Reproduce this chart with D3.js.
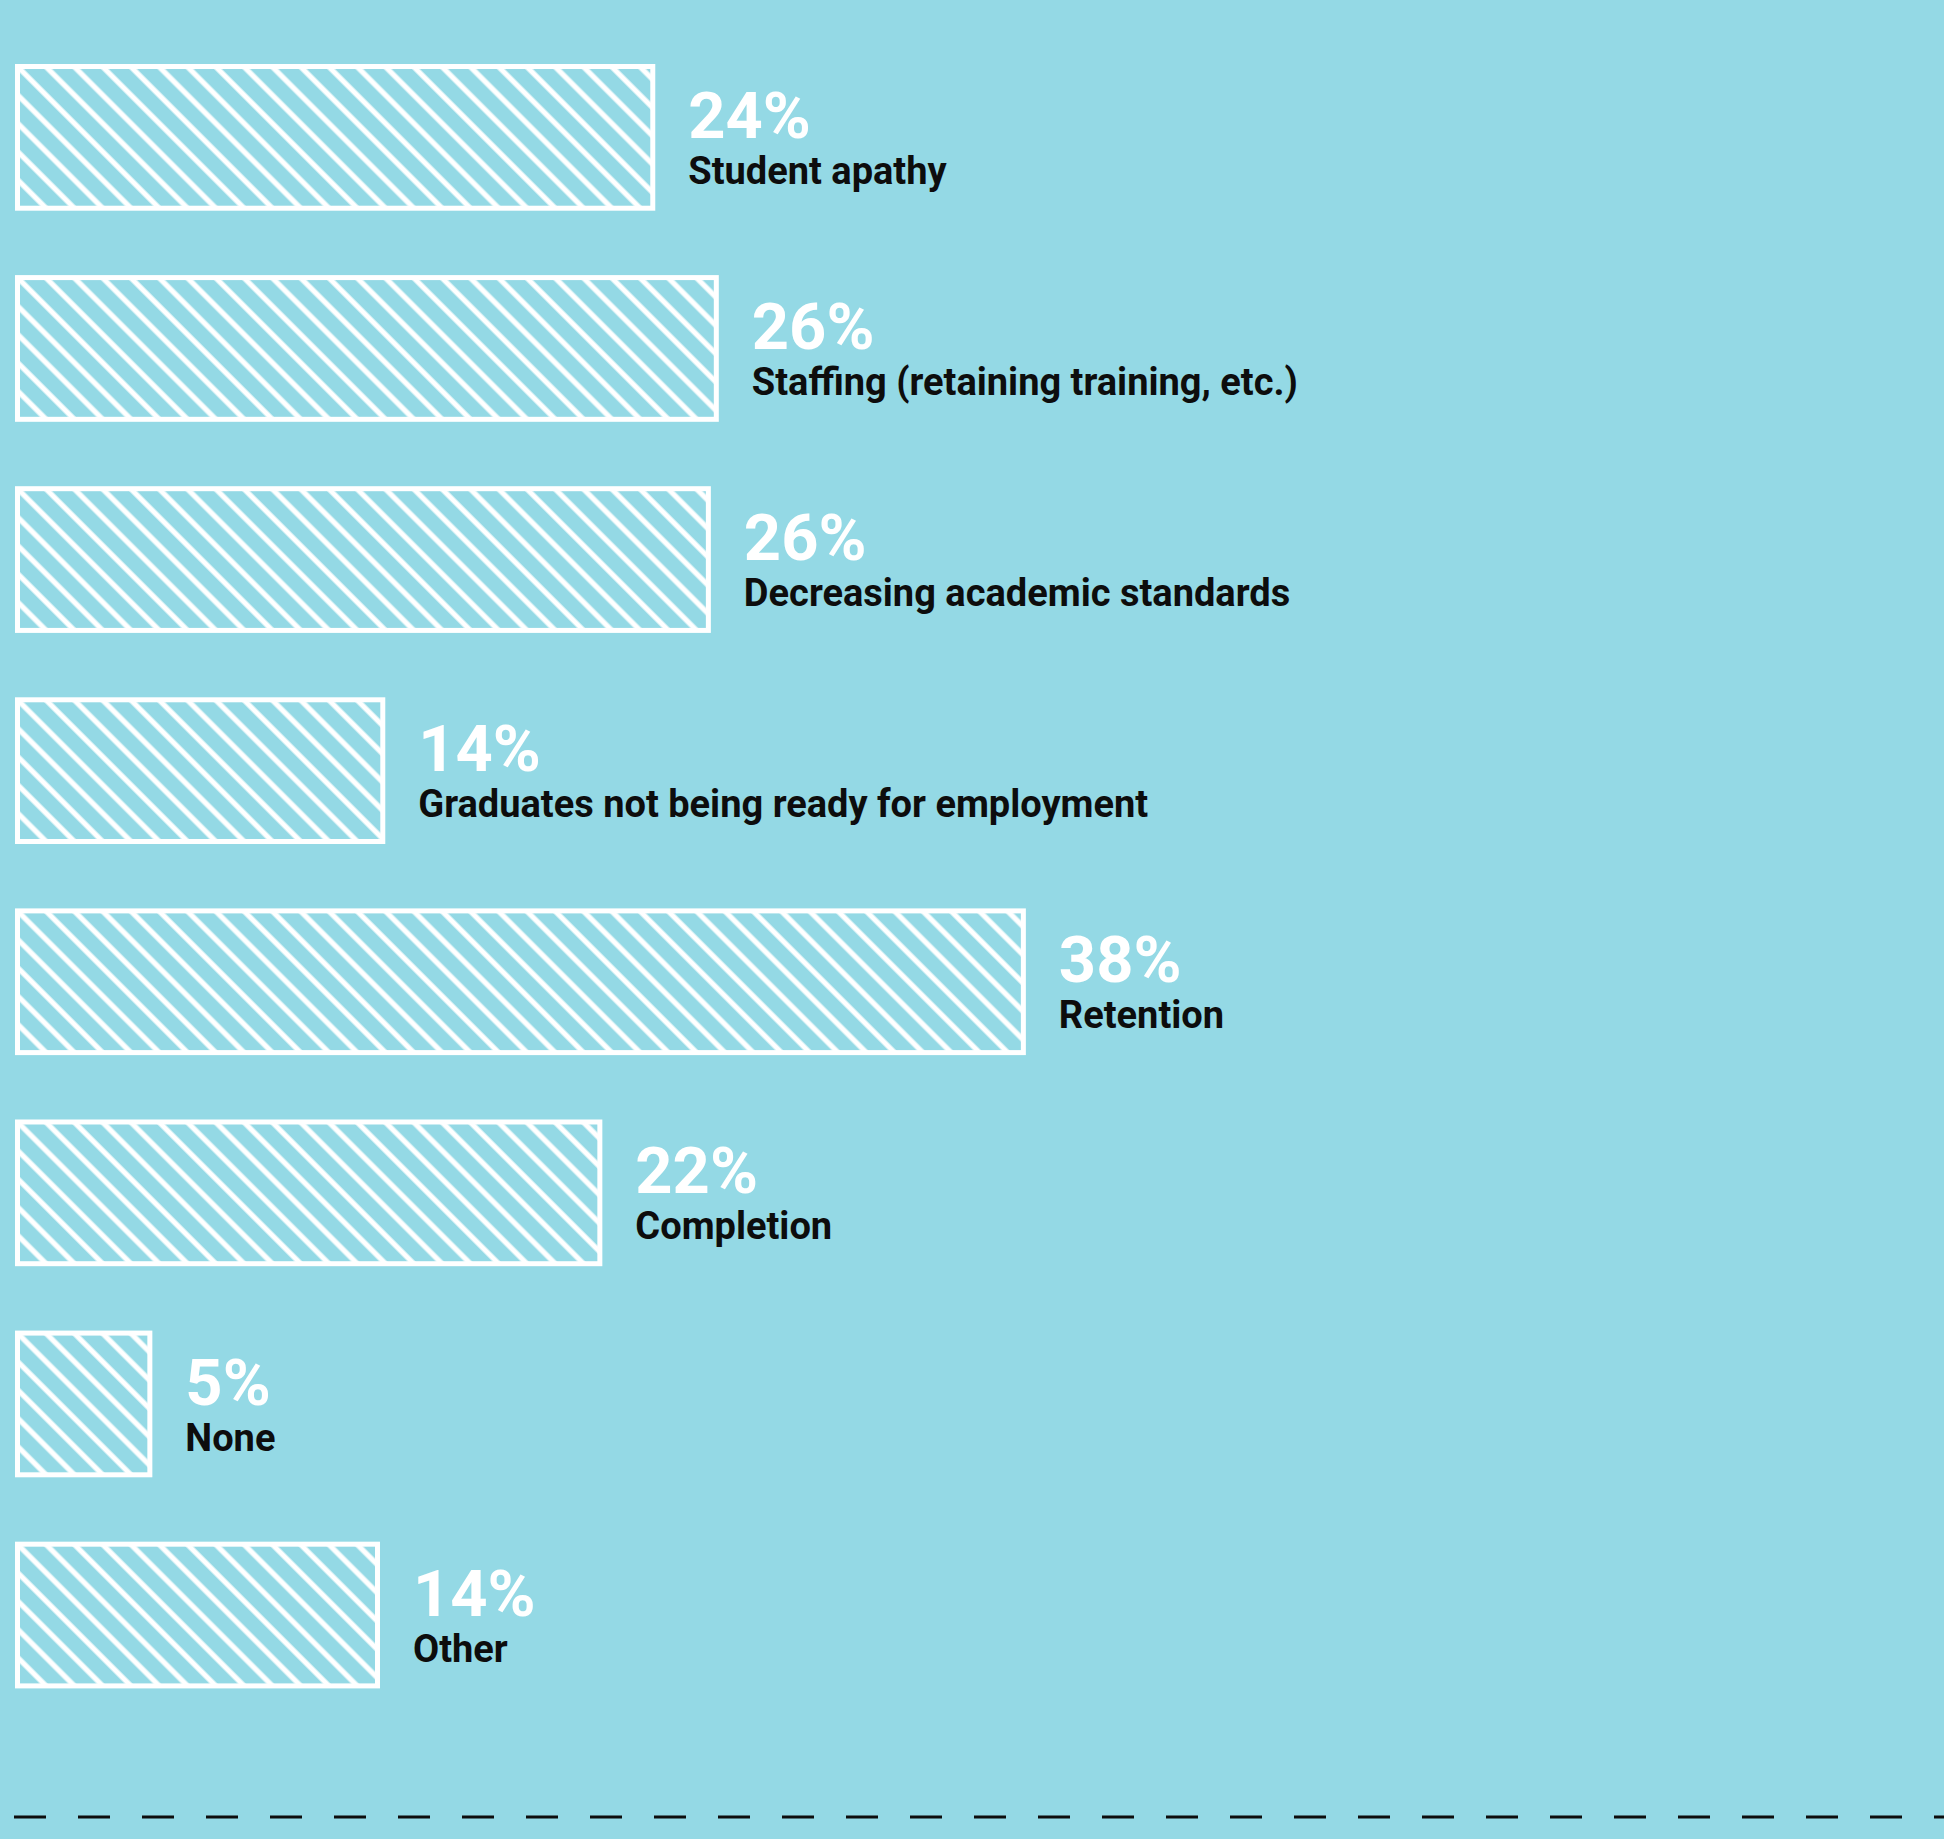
<!DOCTYPE html>
<html>
<head>
<meta charset="utf-8">
<script src="https://cdn.jsdelivr.net/npm/d3@7"></script>
<style>
  html, body { margin: 0; padding: 0; background: #94d9e5; }
  svg { display: block; }
</style>
</head>
<body>
<svg id="chart" width="1944" height="1839"></svg>
<script>
const categories = ['Student apathy', 'Staffing (retaining training, etc.)', 'Decreasing academic standards',
  'Graduates not being ready for employment', 'Retention', 'Completion', 'None', 'Other']
const values = [24, 26.4, 26.1, 13.8, 38, 22, 5, 13.6]
const valueLabels = ['24%', '26%', '26%', '14%', '38%', '22%', '5%', '14%']

const svg = d3.select('#chart')
const width = +svg.attr('width')
const height = +svg.attr('height')
const bg = '#94d9e5'
const barLeft = 15
const stroke = 5
const font = "Roboto, 'Liberation Sans', sans-serif"

svg.append('rect')
  .attr('width', width)
  .attr('height', height)
  .attr('fill', bg)

const xScale = d3.scaleLinear()
  .domain([0, 100])
  .range([0, 2647])

const yScale = d3.scaleBand()
  .domain(categories)
  .range([64, 1688.4])
  .paddingInner(0.305)
  .paddingOuter(0)

const defs = svg.append('defs')

// hatch, one per bar so the first stripe starts at the inner top-left corner
categories.forEach((c, i) => {
  const cx = barLeft + stroke
  const cy = yScale(c) + stroke
  const p = defs.append('pattern')
    .attr('id', 'hatch' + i)
    .attr('patternUnits', 'userSpaceOnUse')
    .attr('width', 20)
    .attr('height', 20)
    .attr('patternTransform', `translate(${cx - 14.14}, ${cy}) rotate(-45)`)
  p.append('rect').attr('width', 20).attr('height', 20).attr('fill', bg)
  p.append('rect').attr('x', 7.4).attr('width', 5.2).attr('height', 20).attr('fill', '#fff')
})

const bars = svg.selectAll('g.bar')
  .data(categories)
  .enter()
  .append('g')
    .attr('class', 'bar')

bars.append('rect')
  .attr('x', barLeft + stroke / 2)
  .attr('y', d => yScale(d) + stroke / 2)
  .attr('width', (d, i) => xScale(values[i]))
  .attr('height', yScale.bandwidth() - stroke)
  .attr('fill', (d, i) => `url(#hatch${i})`)
  .attr('stroke', '#fff')
  .attr('stroke-width', stroke)

const labelX = i => barLeft + xScale(values[i]) + stroke + 33

bars.append('text')
  .attr('x', (d, i) => labelX(i))
  .attr('y', d => yScale(d) + 74)
  .attr('font-family', font)
  .attr('font-weight', 700)
  .attr('font-size', '65px')
  .attr('fill', '#fff')
  .text((d, i) => valueLabels[i])

bars.append('text')
  .attr('x', (d, i) => labelX(i))
  .attr('y', d => yScale(d) + 120)
  .attr('font-family', font)
  .attr('font-weight', 700)
  .attr('font-size', '38px')
  .attr('fill', '#0d0d0d')
  .text(d => d)

// dashed rule at the bottom
svg.append('line')
  .attr('x1', 14)
  .attr('x2', width)
  .attr('y1', 1817)
  .attr('y2', 1817)
  .attr('stroke', '#0d0d0d')
  .attr('stroke-width', 3)
  .attr('stroke-dasharray', '32 32')
</script>
</body>
</html>
